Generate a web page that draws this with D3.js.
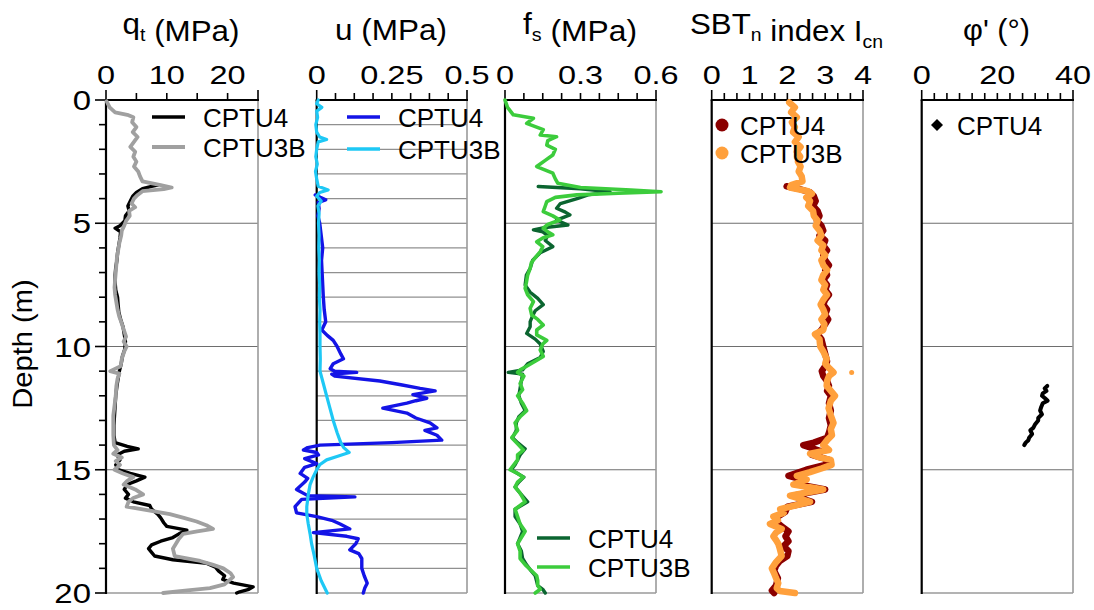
<!DOCTYPE html>
<html><head><meta charset="utf-8">
<script src="https://cdn.jsdelivr.net/npm/d3@7"></script>
<style>
body{margin:0;background:#fff;}
svg{display:block;}
text{font-family:"Liberation Sans",Arial,sans-serif;fill:#000;}
</style>
</head><body>
<svg id="c" width="1094" height="610"></svg>
<script>
// ---------------- DATA: [depth (m), value] ----------------
const qtCPTU3B = [[0.05,0.1],[0.3,0.6],[0.5,1.5],[0.6,3.5],[0.7,4.5],[0.9,4.3],[1.1,5.0],[1.3,4.4],[1.5,5.2],[1.7,4.6],[1.9,4.0],[2.1,4.8],[2.3,4.5],[2.5,5.0],[2.7,4.6],[2.9,5.3],[3.1,5.6],[3.3,6.0],[3.45,9.0],[3.55,10.8],[3.62,9.5],[3.7,6.0],[3.85,5.2],[4.0,4.6],[4.2,4.2],[4.35,4.8],[4.5,3.8],[4.7,3.9],[4.9,3.3],[5.1,3.0],[5.3,2.6],[5.5,2.5],[5.8,2.2],[6.1,2.0],[6.4,1.8],[6.7,1.7],[7.0,1.6],[7.3,1.5],[7.6,1.4],[7.9,1.5],[8.2,1.7],[8.5,1.9],[8.8,2.2],[9.0,2.5],[9.3,2.9],[9.6,3.3],[9.8,2.9],[10.0,3.4],[10.2,3.0],[10.5,2.6],[10.8,2.4],[11.0,0.7],[11.1,2.2],[11.3,1.9],[11.6,1.7],[12.0,1.6],[12.4,1.4],[12.8,1.2],[13.2,1.2],[13.6,1.2],[14.0,1.3],[14.2,1.9],[14.35,1.2],[14.5,2.6],[14.65,1.6],[14.8,2.3],[15.0,1.4],[15.15,2.8],[15.3,4.5],[15.45,3.5],[15.6,2.9],[15.8,4.8],[16.0,6.1],[16.15,4.5],[16.3,3.7],[16.5,3.4],[16.65,7.0],[16.8,10.5],[16.95,12.8],[17.1,14.9],[17.25,16.5],[17.4,17.6],[17.5,15.0],[17.6,12.7],[17.8,12.0],[18.0,11.5],[18.2,11.0],[18.5,11.3],[18.7,15.5],[18.85,17.5],[19.0,19.3],[19.2,20.5],[19.35,20.9],[19.5,20.2],[19.65,19.5],[19.8,17.1],[19.9,13.0],[20.0,9.4]];
const qtCPTU4 = [[3.45,8.5],[3.5,7.5],[3.6,6.0],[3.75,5.0],[3.9,4.4],[4.1,4.0],[4.3,3.6],[4.5,3.8],[4.7,3.2],[4.9,3.1],[5.1,2.3],[5.2,1.5],[5.35,2.4],[5.6,2.3],[5.9,2.1],[6.2,1.9],[6.5,1.8],[6.8,1.6],[7.1,1.5],[7.4,1.5],[7.7,1.6],[8.0,1.9],[8.3,2.0],[8.6,2.1],[8.9,2.4],[9.2,2.8],[9.5,3.0],[9.8,3.2],[10.1,3.1],[10.4,2.7],[10.7,2.5],[11.0,2.2],[11.3,2.0],[11.6,1.8],[12.0,1.6],[12.4,1.5],[12.8,1.4],[13.2,1.3],[13.6,1.3],[13.9,1.5],[14.05,3.5],[14.15,5.3],[14.25,3.0],[14.4,1.8],[14.6,2.3],[14.8,1.6],[15.0,2.0],[15.15,4.0],[15.3,6.4],[15.45,5.0],[15.6,3.5],[15.8,3.0],[16.0,3.7],[16.15,3.2],[16.3,4.5],[16.45,7.2],[16.6,7.5],[16.8,8.5],[16.95,9.0],[17.15,9.5],[17.3,10.0],[17.45,13.3],[17.6,12.0],[17.75,11.0],[17.9,9.0],[18.05,7.5],[18.2,7.0],[18.35,7.5],[18.5,8.0],[18.65,11.0],[18.8,16.6],[18.95,18.0],[19.1,18.5],[19.3,19.5],[19.45,19.2],[19.6,21.0],[19.75,24.2],[19.85,23.5],[19.95,22.0],[20.0,21.5]];

const uCPTU3B = [[0.0,0.005],[0.15,0.0],[0.3,0.017],[0.45,0.0],[0.7,0.003],[1.0,-0.003],[1.3,0.0],[1.5,0.01],[1.6,0.033],[1.7,0.005],[2.0,0.0],[2.3,-0.003],[2.6,0.002],[2.9,-0.004],[3.2,0.0],[3.5,0.005],[3.65,0.038],[3.75,0.01],[3.9,0.0],[4.1,0.015],[4.3,0.004],[4.6,0.008],[5.0,0.006],[5.5,0.008],[6.0,0.007],[6.5,0.009],[7.0,0.008],[7.5,0.01],[8.0,0.009],[8.5,0.011],[9.0,0.01],[9.5,0.011],[10.0,0.011],[10.5,0.012],[11.0,0.011],[11.5,0.022],[12.0,0.033],[12.5,0.044],[13.0,0.055],[13.5,0.068],[13.9,0.08],[14.1,0.09],[14.3,0.108],[14.45,0.07],[14.6,0.033],[14.8,0.01],[15.0,0.0],[15.3,-0.012],[15.6,-0.022],[16.0,-0.028],[16.5,-0.033],[16.8,-0.033],[17.2,-0.028],[17.6,-0.022],[18.0,-0.017],[18.5,-0.008],[19.0,0.0],[19.5,0.015],[20.0,0.035]];
const uCPTU4 = [[3.85,-0.005],[3.95,0.012],[4.05,0.03],[4.15,0.005],[4.4,0.008],[4.7,0.004],[5.0,0.01],[5.5,0.015],[6.0,0.02],[6.5,0.016],[7.0,0.018],[7.5,0.02],[8.0,0.022],[8.5,0.025],[9.0,0.03],[9.33,0.017],[9.55,0.035],[9.75,0.055],[10.0,0.068],[10.3,0.08],[10.5,0.089],[10.7,0.055],[10.9,0.045],[11.0,0.06],[11.05,0.133],[11.12,0.05],[11.2,0.06],[11.4,0.21],[11.55,0.28],[11.7,0.344],[11.8,0.394],[11.95,0.32],[12.1,0.366],[12.2,0.33],[12.3,0.3],[12.5,0.22],[12.7,0.3],[12.9,0.33],[13.1,0.377],[13.3,0.4],[13.4,0.36],[13.6,0.4],[13.8,0.416],[13.9,0.25],[14.0,0.011],[14.1,-0.03],[14.2,-0.044],[14.3,0.0],[14.4,0.006],[14.55,-0.04],[14.75,0.0],[14.9,-0.04],[15.15,-0.055],[15.35,-0.03],[15.5,-0.04],[15.8,-0.067],[16.05,-0.03],[16.1,0.127],[16.2,-0.05],[16.5,-0.072],[16.75,-0.067],[16.9,0.0],[17.05,0.05],[17.2,0.078],[17.4,0.11],[17.55,-0.011],[17.7,0.1],[17.8,0.138],[18.0,0.13],[18.25,0.11],[18.4,0.14],[18.6,0.15],[19.0,0.15],[19.3,0.158],[19.6,0.168],[19.8,0.16],[20.0,0.155]];

const fsCPTU3B = [[0.0,0.0],[0.3,0.01],[0.6,0.033],[0.74,0.113],[0.95,0.086],[1.2,0.152],[1.42,0.14],[1.49,0.205],[1.65,0.17],[1.83,0.166],[2.0,0.2],[2.23,0.19],[2.45,0.16],[2.7,0.126],[2.97,0.19],[3.2,0.2],[3.38,0.21],[3.55,0.3],[3.65,0.5],[3.72,0.62],[3.78,0.45],[3.85,0.285],[3.95,0.2],[4.12,0.166],[4.3,0.16],[4.53,0.152],[4.7,0.19],[4.87,0.218],[5.05,0.17],[5.2,0.152],[5.35,0.17],[5.47,0.19],[5.6,0.15],[5.75,0.126],[5.95,0.15],[6.15,0.14],[6.4,0.12],[6.6,0.105],[6.83,0.1],[7.1,0.09],[7.4,0.085],[7.64,0.08],[7.9,0.09],[8.18,0.113],[8.45,0.1],[8.72,0.106],[8.9,0.13],[9.13,0.152],[9.33,0.126],[9.53,0.126],[9.75,0.166],[9.9,0.15],[10.14,0.14],[10.4,0.152],[10.6,0.12],[10.8,0.086],[10.95,0.06],[11.05,0.05],[11.2,0.075],[11.5,0.06],[11.75,0.07],[12.0,0.05],[12.3,0.07],[12.6,0.086],[12.85,0.06],[13.1,0.04],[13.4,0.05],[13.7,0.027],[13.95,0.05],[14.2,0.073],[14.4,0.05],[14.6,0.05],[14.8,0.035],[15.0,0.02],[15.15,0.05],[15.3,0.073],[15.5,0.05],[15.7,0.04],[15.95,0.06],[16.3,0.08],[16.6,0.04],[16.9,0.05],[17.2,0.06],[17.5,0.08],[17.75,0.065],[18.0,0.05],[18.3,0.06],[18.6,0.06],[18.85,0.08],[19.05,0.1],[19.3,0.126],[19.5,0.13],[19.7,0.13],[19.85,0.14],[20.0,0.12]];
const fsCPTU4 = [[3.51,0.132],[3.6,0.3],[3.72,0.417],[3.85,0.33],[3.99,0.29],[4.2,0.22],[4.39,0.205],[4.55,0.24],[4.66,0.258],[4.87,0.205],[5.07,0.25],[5.17,0.16],[5.27,0.113],[5.35,0.15],[5.5,0.17],[5.7,0.16],[5.95,0.19],[6.2,0.14],[6.5,0.11],[6.83,0.1],[7.1,0.085],[7.5,0.08],[7.8,0.1],[8.05,0.13],[8.3,0.152],[8.55,0.12],[8.75,0.11],[8.99,0.1],[9.2,0.1],[9.47,0.086],[9.7,0.12],[9.9,0.14],[10.2,0.152],[10.45,0.14],[10.7,0.09],[10.95,0.07],[11.05,0.013],[11.12,0.07],[11.4,0.065],[11.7,0.06],[12.0,0.055],[12.3,0.065],[12.6,0.08],[12.85,0.055],[13.1,0.045],[13.4,0.045],[13.7,0.03],[13.9,0.05],[14.15,0.08],[14.4,0.06],[14.6,0.05],[14.8,0.04],[15.0,0.025],[15.15,0.05],[15.3,0.075],[15.5,0.055],[15.7,0.04],[15.95,0.06],[16.3,0.09],[16.6,0.04],[16.9,0.04],[17.2,0.06],[17.5,0.07],[17.75,0.06],[18.0,0.05],[18.3,0.065],[18.6,0.07],[18.85,0.085],[19.05,0.1],[19.3,0.12],[19.5,0.125],[19.7,0.13],[19.85,0.15],[20.0,0.16]];

const icCPTU3B = [[0.1,2.05],[0.3,2.2],[0.5,2.1],[0.7,2.25],[0.9,2.12],[1.1,2.2],[1.3,2.15],[1.5,2.3],[1.7,2.2],[1.9,2.35],[2.1,2.25],[2.3,2.34],[2.5,2.28],[2.7,2.35],[2.9,2.3],[3.1,2.38],[3.3,2.4],[3.45,2.1],[3.55,2.07],[3.7,2.55],[3.8,2.65],[3.95,2.5],[4.1,2.6],[4.3,2.55],[4.5,2.68],[4.7,2.7],[4.9,2.8],[5.1,2.75],[5.3,2.85],[5.5,2.9],[5.7,2.8],[5.9,2.95],[6.1,2.9],[6.3,3.0],[6.5,2.9],[6.7,2.95],[6.9,3.05],[7.1,2.95],[7.3,2.9],[7.5,3.0],[7.7,2.95],[7.9,3.05],[8.1,2.95],[8.3,2.88],[8.5,2.95],[8.7,3.0],[8.9,2.9],[9.1,2.98],[9.33,2.95],[9.5,2.73],[9.7,2.85],[10.0,2.87],[10.2,2.95],[10.5,3.04],[10.7,3.0],[10.9,3.12],[11.05,3.22],[11.2,3.1],[11.4,3.05],[11.6,3.04],[11.8,3.15],[12.0,3.26],[12.2,3.15],[12.5,3.09],[12.8,3.15],[13.1,3.22],[13.35,3.15],[13.6,3.18],[13.8,3.05],[14.0,2.95],[14.2,3.1],[14.35,2.6],[14.5,2.85],[14.6,3.15],[14.8,3.17],[14.95,2.9],[15.1,2.6],[15.25,2.25],[15.4,2.51],[15.6,2.16],[15.8,2.95],[16.05,2.07],[16.3,2.6],[16.45,2.2],[16.6,1.81],[16.75,1.9],[16.9,1.63],[17.05,1.75],[17.2,1.54],[17.4,1.85],[17.55,1.7],[17.7,1.63],[17.85,1.7],[18.0,1.76],[18.2,1.8],[18.5,1.85],[18.75,1.7],[19.0,1.59],[19.2,1.65],[19.4,1.7],[19.6,1.76],[19.8,1.72],[19.92,1.8],[20.0,2.2]];
const icCPTU3BOutlier = [[11.05,3.70]];
const icCPTU4 = [[3.5,1.98],[3.6,2.3],[3.75,2.6],[3.9,2.7],[4.1,2.75],[4.3,2.68],[4.5,2.8],[4.7,2.85],[4.9,2.78],[5.1,2.9],[5.3,2.95],[5.5,2.85],[5.7,3.0],[5.9,2.95],[6.1,3.05],[6.3,2.95],[6.5,3.0],[6.7,3.1],[6.9,3.0],[7.1,3.05],[7.3,2.95],[7.5,3.05],[7.7,3.0],[7.9,3.1],[8.1,3.0],[8.3,2.95],[8.5,3.05],[8.7,3.0],[8.9,3.08],[9.1,3.0],[9.33,2.9],[9.5,2.8],[9.7,2.9],[10.0,2.95],[10.3,3.0],[10.6,3.05],[10.8,3.0],[11.0,2.91],[11.2,2.95],[11.4,3.05],[11.6,3.1],[11.8,3.05],[12.0,3.15],[12.3,3.1],[12.6,3.15],[12.9,3.1],[13.2,3.15],[13.5,3.1],[13.7,3.05],[13.9,2.7],[14.0,2.42],[14.1,2.6],[14.25,2.9],[14.4,2.65],[14.6,3.1],[14.8,3.0],[15.0,2.5],[15.25,2.03],[15.4,2.4],[15.6,2.3],[15.8,3.0],[16.05,2.15],[16.3,2.65],[16.5,2.0],[16.7,1.95],[16.9,1.75],[17.1,1.7],[17.3,1.85],[17.5,2.03],[17.7,1.95],[17.9,2.03],[18.1,1.9],[18.3,2.03],[18.5,2.0],[18.7,1.8],[18.9,1.7],[19.1,1.65],[19.4,1.75],[19.7,1.7],[19.9,1.59],[20.0,1.65]];

const phiCPTU4 = [[11.6,33.2],[11.7,32.5],[11.8,33.0],[11.9,32.0],[12.0,31.8],[12.1,32.6],[12.2,33.3],[12.3,32.0],[12.45,31.6],[12.6,31.3],[12.75,31.8],[12.9,30.8],[13.0,30.8],[13.15,30.0],[13.3,29.5],[13.4,28.7],[13.55,29.2],[13.7,28.4],[13.8,28.2],[13.9,27.5],[14.0,27.1]];

// tick labels
const depthLabels = [0,5,10,15,20];
const qtTickLabels = [0,10,20];
const uTickLabels = [0,0.25,0.5];
const fsTickLabels = [0,0.3,0.6];
const icTickLabels = [0,1,2,3,4];
const phiTickLabels = [0,20,40];

// ---------------- DRAWING ----------------
const svg = d3.select('#c');
const TOP = 100, BOT = 593;
const y = d3.scaleLinear().domain([0,20]).range([TOP,BOT]);

const panels = [
  {x0:106, x1:258, domain:[0,25], n:5, labels:qtTickLabels, fine:false},
  {x0:316.7, x1:467, domain:[0,0.5], n:8, labels:uTickLabels, fine:true},
  {x0:505, x1:656, domain:[0,0.6], n:8, labels:fsTickLabels, fine:false},
  {x0:711.7, x1:863, domain:[0,4], n:12, labels:icTickLabels, fine:false},
  {x0:921.7, x1:1073, domain:[0,40], n:12, labels:phiTickLabels, fine:false}
];
panels.forEach(p => { p.x = d3.scaleLinear().domain(p.domain).range([p.x0,p.x1]); });

function sText(g, x, yy, str, size, sx, anchor) {
  return g.append('text')
    .attr('transform', `translate(${x},${yy}) scale(${sx},1)`)
    .attr('text-anchor', anchor || 'middle')
    .style('font-size', size + 'px')
    .text(str);
}

// frames, grids, axes
panels.forEach((p, i) => {
  const g = svg.append('g');
  if (p.fine) {
    g.selectAll('line.fine').data(d3.range(1,20).filter(d => d % 5 !== 0)).join('line')
      .attr('x1', p.x0).attr('x2', p.x1).attr('y1', d => y(d)).attr('y2', d => y(d))
      .attr('stroke', '#909090').attr('stroke-width', 1.2);
  }
  g.selectAll('line.major').data([5,10,15]).join('line')
    .attr('x1', p.x0).attr('x2', p.x1).attr('y1', d => y(d)).attr('y2', d => y(d))
    .attr('stroke', '#6e6e6e').attr('stroke-width', 1.2);
  g.append('line').attr('x1', p.x1).attr('x2', p.x1).attr('y1', TOP).attr('y2', BOT)
    .attr('stroke', '#9a9a9a').attr('stroke-width', 1.6);
  g.append('line').attr('x1', p.x0).attr('x2', p.x1).attr('y1', BOT).attr('y2', BOT)
    .attr('stroke', '#9a9a9a').attr('stroke-width', 1.6);
  const tv = d3.range(0, p.n + 1).map(k => p.domain[0] + k * (p.domain[1] - p.domain[0]) / p.n);
  g.selectAll('line.tt').data(tv).join('line')
    .attr('x1', d => p.x(d)).attr('x2', d => p.x(d))
    .attr('y1', TOP).attr('y2', (d, k) => (k === 0 || k === p.n) ? TOP - 10 : TOP - 7)
    .attr('stroke', '#000').attr('stroke-width', 1.6);
  g.append('line').attr('x1', p.x0 - 1).attr('x2', p.x1 + 1).attr('y1', TOP).attr('y2', TOP)
    .attr('stroke', '#000').attr('stroke-width', 2);
  g.append('line').attr('x1', p.x0).attr('x2', p.x0).attr('y1', TOP).attr('y2', BOT + 1)
    .attr('stroke', '#000').attr('stroke-width', 2.2);
  p.labels.forEach(v => sText(g, p.x(v), 84, String(v), 26, 1.25, 'middle'));
});

// depth axis (panel 1)
{
  const g = svg.append('g');
  g.selectAll('line').data(d3.range(0,21)).join('line')
    .attr('x1', d => depthLabels.includes(d) ? 95 : 99).attr('x2', 106)
    .attr('y1', d => y(d)).attr('y2', d => y(d))
    .attr('stroke', '#000').attr('stroke-width', 1.6);
  depthLabels.forEach(v => sText(g, 91, y(v) + 10, String(v), 27, 1.22, 'end'));
  g.append('text').attr('transform', `translate(32,344) rotate(-90) scale(1.04,1)`)
    .attr('text-anchor', 'middle').style('font-size', '28px').text('Depth (m)');
}

// titles
function title(cx, base, parts, targetW) {
  const t = svg.append('text').attr('text-anchor', 'middle').style('font-size', '29px');
  parts.forEach(pt => {
    if (pt.sub) {
      t.append('tspan').attr('dy', 7).style('font-size', '18px').text(pt.sub);
      t.append('tspan').attr('dy', -7).text('');
    } else {
      t.append('tspan').text(pt.t);
    }
  });
  const w = t.node().getBBox().width;
  const s = targetW / w;
  t.attr('transform', `translate(${cx},${base}) scale(${s},1)`);
}
title(181, 34, [{t:'q'},{sub:'t'},{t:' (MPa)'}], 117);
title(391, 40, [{t:'u (MPa)'}], 112);
title(580, 34, [{t:'f'},{sub:'s'},{t:' (MPa)'}], 114);
title(786.5, 34, [{t:'SBT'},{sub:'n'},{t:' index I'},{sub:'cn'}], 193);
title(996.5, 40, [{t:'\u03C6\' (\u00B0)'}], 67);

// series
function line(p) { return d3.line().x(d => p.x(d[1])).y(d => y(d[0])); }
function drawLine(p, data, color, w) {
  svg.append('path').datum(data).attr('d', line(p))
    .attr('fill', 'none').attr('stroke', color).attr('stroke-width', w)
    .attr('stroke-linejoin', 'round').attr('stroke-linecap', 'round');
}
const C = {
  qt4:'#000000', qt3:'#a0a0a0',
  u4:'#1414e6', u3:'#1ec8f5',
  fs4:'#0b6530', fs3:'#3ccc3c',
  ic4:'#8b0000', ic3:'#ffa03c',
  phi:'#000000'
};
drawLine(panels[0], qtCPTU4, C.qt4, 3.4);
drawLine(panels[0], qtCPTU3B, C.qt3, 3.8);
drawLine(panels[1], uCPTU4, C.u4, 3.4);
drawLine(panels[1], uCPTU3B, C.u3, 3.2);
drawLine(panels[2], fsCPTU4, C.fs4, 3.4);
drawLine(panels[2], fsCPTU3B, C.fs3, 3.6);
drawLine(panels[3], icCPTU4, C.ic4, 6.5);
drawLine(panels[3], icCPTU3B, C.ic3, 6.5);
svg.append('g').selectAll('circle').data(icCPTU3BOutlier).join('circle')
  .attr('cx', d => panels[3].x(d[1])).attr('cy', d => y(d[0])).attr('r', 2.5).attr('fill', C.ic3);
drawLine(panels[4], phiCPTU4, C.phi, 4);

// legends
function legLine(x1, x2, yy, color, w, label, tx) {
  svg.append('line').attr('x1', x1).attr('x2', x2).attr('y1', yy).attr('y2', yy)
    .attr('stroke', color).attr('stroke-width', w);
  svg.append('text').attr('x', tx).attr('y', yy + 10).style('font-size', '26px').text(label);
}
legLine(152, 185, 117, C.qt4, 3.5, 'CPTU4', 203);
legLine(152, 185, 147, C.qt3, 3.8, 'CPTU3B', 203);
legLine(347, 380, 117, C.u4, 3.5, 'CPTU4', 398);
legLine(347, 380, 149, C.u3, 3.5, 'CPTU3B', 398);
legLine(537, 570, 538, C.fs4, 3.5, 'CPTU4', 588);
legLine(537, 570, 567, C.fs3, 3.5, 'CPTU3B', 588);
svg.append('circle').attr('cx', 722).attr('cy', 125).attr('r', 6.5).attr('fill', C.ic4);
svg.append('text').attr('x', 740).attr('y', 135).style('font-size', '26px').text('CPTU4');
svg.append('circle').attr('cx', 722).attr('cy', 153).attr('r', 6.5).attr('fill', C.ic3);
svg.append('text').attr('x', 740).attr('y', 163).style('font-size', '26px').text('CPTU3B');
svg.append('path').attr('d', d3.symbol().type(d3.symbolSquare).size(72)())
  .attr('transform', 'translate(937,125) rotate(45)').attr('fill', '#000');
svg.append('text').attr('x', 957).attr('y', 135).style('font-size', '26px').text('CPTU4');
</script>
</body></html>
